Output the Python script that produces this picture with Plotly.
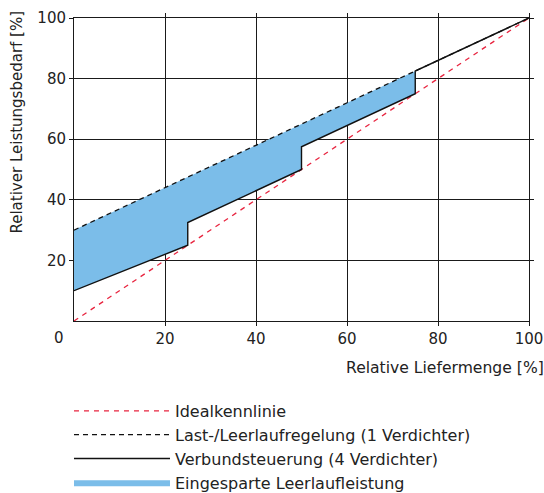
import plotly.graph_objects as go
import numpy as np

# ---- data ----
ideal_x = [0, 100]
ideal_y = [0, 100]

last_x = [0, 100]
last_y = [30, 100]

verb_x = [0, 25, 25, 50, 50, 75, 75, 100]
verb_y = [10, 25, 32.5, 50, 57.5, 75, 82.5, 100]

fill_end = 75
x_ticks = [20, 40, 60, 80, 100]
y_ticks = [20, 40, 60, 80, 100]

labels = ["Idealkennlinie",
          "Last-/Leerlaufregelung (1 Verdichter)",
          "Verbundsteuerung (4 Verdichter)",
          "Eingesparte Leerlaufleistung"]

FONT = "DejaVu Sans"
TXT = "#222222"
BLUE = "#7bbde9"
FS = 15

# fill region between Last-/Leerlauf line and Verbund line up to x=75
low_x = verb_x[:7]
low_y = verb_y[:7]
up_x = [0, fill_end]
up_y = list(np.interp(up_x, last_x, last_y))

fig = go.Figure()
fig.add_trace(go.Scatter(x=low_x, y=low_y, mode="lines", line=dict(width=0, color=BLUE),
                         showlegend=False, hoverinfo="skip"))
fig.add_trace(go.Scatter(x=up_x, y=up_y, mode="lines", line=dict(width=0, color=BLUE),
                         fill="tonexty", fillcolor=BLUE, name=labels[3],
                         legendrank=4, legendgroup="d"))
fig.add_trace(go.Scatter(x=ideal_x, y=ideal_y, mode="lines",
                         line=dict(color="#e8243f", width=1.3, dash="5px,5px"),
                         name=labels[0], legendrank=1, legendgroup="a"))
fig.add_trace(go.Scatter(x=last_x, y=last_y, mode="lines",
                         line=dict(color="#111111", width=1.3, dash="5px,4px"),
                         name=labels[1], legendrank=2, legendgroup="b"))
fig.add_trace(go.Scatter(x=verb_x, y=verb_y, mode="lines",
                         line=dict(color="#111111", width=1.4),
                         name=labels[2], legendrank=3, legendgroup="c"))

axis_common = dict(showgrid=True, gridcolor="#1a1a1a", gridwidth=1,
                   showline=True, linecolor="#1a1a1a", linewidth=1, mirror="ticks",
                   ticks="outside", ticklen=4, tickcolor="#1a1a1a", tickwidth=1,
                   zeroline=False, tickfont=dict(family=FONT, size=FS, color=TXT),
                   fixedrange=True, automargin=False)

fig.update_layout(
    width=544, height=493,
    margin=dict(l=74, r=15, t=18, b=172, autoexpand=False),
    plot_bgcolor="white", paper_bgcolor="white",
    font=dict(family=FONT, size=FS, color=TXT),
    xaxis=dict(range=[0, 100], tickvals=x_ticks, **axis_common),
    yaxis=dict(range=[0, 100], tickvals=y_ticks, **axis_common),
    showlegend=True,
    legend=dict(x=-0.011, y=-0.241, xanchor="left", yanchor="top",
                orientation="v", traceorder="grouped", tracegroupgap=0,
                itemwidth=96, font=dict(family=FONT, size=16, color=TXT),
                bgcolor="rgba(0,0,0,0)"),
    annotations=[
        dict(text="0", x=0, y=0, xref="x", yref="y", xanchor="right", yanchor="top",
             xshift=-8, yshift=-6, showarrow=False,
             font=dict(family=FONT, size=FS, color=TXT)),
        dict(text="Relative Liefermenge [%]", x=1.037, y=-0.155, xref="paper", yref="paper",
             xanchor="right", yanchor="middle", showarrow=False,
             font=dict(family=FONT, size=15.6, color=TXT)),
        dict(text="Relativer Leistungsbedarf [%]", x=-0.125, y=1.03, xref="paper", yref="paper",
             xanchor="center", yanchor="top", textangle=-90, showarrow=False,
             font=dict(family=FONT, size=FS, color=TXT)),
    ],
)

fig.write_html("out.html", config={"displayModeBar": False},
               post_script="document.body.style.margin='0px';document.body.style.overflow='hidden';")
